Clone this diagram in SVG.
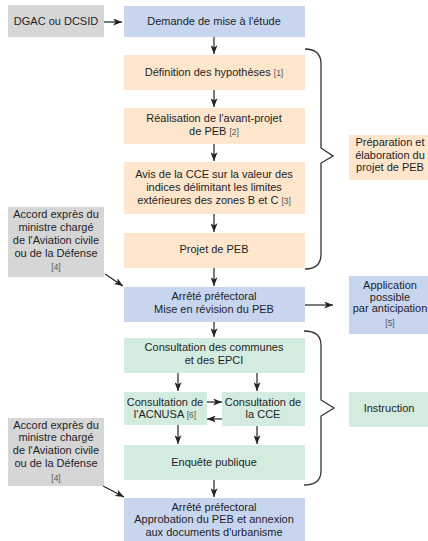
<svg xmlns="http://www.w3.org/2000/svg" width="428" height="541" viewBox="0 0 428 541">
<style>
text{font-family:"Liberation Sans",Arial,sans-serif;font-size:11px;fill:#1e1e28;text-anchor:middle}
.ref{font-size:8.5px;fill:#555}
.gray{fill:#d6d6d6}
.blue{fill:#c8d5ef}
.orange{fill:#fde6cc}
.green{fill:#d4ecdf}
.conn{stroke:#222;stroke-width:1.2;fill:none}
.brace{stroke:#333;stroke-width:1.3;fill:none}
</style>
<defs>
<marker id="ah" viewBox="0 0 10 8" refX="10" refY="4" markerWidth="9" markerHeight="7" markerUnits="userSpaceOnUse" orient="auto">
<path d="M0,0 L10,4 L0,8 L2.5,4 z" fill="#222"/>
</marker>
</defs>
<rect width="428" height="541" fill="#fff"/>

<g id="dgac"><rect class="gray" x="8" y="5" width="96" height="32"/><text x="56" y="25">DGAC ou DCSID</text></g>
<g id="demande"><rect class="blue" x="124" y="6" width="181" height="31"/><text x="214" y="25">Demande de mise à l'étude</text></g>
<g id="definition"><rect class="orange" x="124" y="55" width="181" height="35"/><text x="214" y="76">Définition des hypothèses <tspan class="ref">[1]</tspan></text></g>
<g id="realisation"><rect class="orange" x="124" y="108" width="181" height="36"/><text x="214" y="122">Réalisation de l'avant-projet</text><text x="214" y="135">de PEB <tspan class="ref">[2]</tspan></text></g>
<g id="avis"><rect class="orange" x="124" y="162" width="181" height="52"/><text x="214" y="178">Avis de la CCE sur la valeur des</text><text x="214" y="191">indices délimitant les limites</text><text x="214" y="204">extérieures des zones B et C <tspan class="ref">[3]</tspan></text></g>
<g id="projet"><rect class="orange" x="124" y="233" width="181" height="35"/><text x="214" y="253">Projet de PEB</text></g>
<g id="arrete1"><rect class="blue" x="124" y="287" width="181" height="35"/><text x="214" y="300">Arrêté préfectoral</text><text x="214" y="313">Mise en révision du PEB</text></g>
<g id="communes"><rect class="green" x="124" y="338" width="181" height="35"/><text x="214" y="351">Consultation des communes</text><text x="214" y="364">et des EPCI</text></g>
<g id="acnusa"><rect class="green" x="124" y="392" width="83" height="33"/><text x="165" y="406">Consultation de</text><text x="165" y="418">l'ACNUSA <tspan class="ref">[6]</tspan></text></g>
<g id="cce"><rect class="green" x="222" y="392" width="83" height="34"/><text x="263" y="406">Consultation de</text><text x="263" y="418">la CCE</text></g>
<g id="enquete"><rect class="green" x="124" y="445" width="181" height="35"/><text x="214" y="466">Enquête publique</text></g>
<g id="arrete2"><rect class="blue" x="124" y="498" width="181" height="43"/><text x="214" y="511">Arrêté préfectoral</text><text x="214" y="523">Approbation du PEB et annexion</text><text x="214" y="536">aux documents d'urbanisme</text></g>
<g id="accord1"><rect class="gray" x="8" y="207" width="96" height="70"/><text x="56" y="218">Accord exprès du</text><text x="56" y="231">ministre chargé</text><text x="56" y="244">de l'Aviation civile</text><text x="56" y="257">ou de la Défense</text><text x="56" y="270" class="ref">[4]</text></g>
<g id="accord2"><rect class="gray" x="8" y="418" width="96" height="68"/><text x="56" y="429">Accord exprès du</text><text x="56" y="441">ministre chargé</text><text x="56" y="454">de l'Aviation civile</text><text x="56" y="467">ou de la Défense</text><text x="56" y="481" class="ref">[4]</text></g>
<g id="preparation"><rect class="orange" x="349" y="135" width="79" height="45"/><text x="390" y="146">Préparation et</text><text x="390" y="159">élaboration du</text><text x="390" y="171">projet de PEB</text></g>
<g id="application"><rect class="blue" x="349" y="276" width="79" height="58"/><text x="390" y="289">Application</text><text x="390" y="301">possible</text><text x="390" y="312">par anticipation</text><text x="390" y="326" class="ref">[5]</text></g>
<g id="instruction"><rect class="green" x="349" y="392" width="79" height="35"/><text x="389" y="412">Instruction</text></g>

<g id="connectors">
<line class="conn" x1="104" y1="22" x2="122" y2="22" marker-end="url(#ah)"/>
<line class="conn" x1="214" y1="37" x2="214" y2="54" marker-end="url(#ah)"/>
<line class="conn" x1="214" y1="90" x2="214" y2="107" marker-end="url(#ah)"/>
<line class="conn" x1="214" y1="144" x2="214" y2="161" marker-end="url(#ah)"/>
<line class="conn" x1="214" y1="214" x2="214" y2="232" marker-end="url(#ah)"/>
<line class="conn" x1="214" y1="268" x2="214" y2="286" marker-end="url(#ah)"/>
<line class="conn" x1="214" y1="322" x2="214" y2="337" marker-end="url(#ah)"/>
<line class="conn" x1="178" y1="373" x2="178" y2="391" marker-end="url(#ah)"/>
<line class="conn" x1="257" y1="373" x2="257" y2="391" marker-end="url(#ah)"/>
<line class="conn" x1="207" y1="402" x2="222" y2="402" marker-end="url(#ah)"/>
<line class="conn" x1="222" y1="419" x2="207" y2="419" marker-end="url(#ah)"/>
<line class="conn" x1="178" y1="425" x2="178" y2="444" marker-end="url(#ah)"/>
<line class="conn" x1="257" y1="426" x2="257" y2="444" marker-end="url(#ah)"/>
<line class="conn" x1="214" y1="480" x2="214" y2="497" marker-end="url(#ah)"/>
<line class="conn" x1="105" y1="274" x2="123" y2="286" marker-end="url(#ah)"/>
<line class="conn" x1="103" y1="486" x2="124" y2="497" marker-end="url(#ah)"/>
<line class="conn" x1="305" y1="305" x2="333" y2="305" marker-end="url(#ah)"/>
<path class="brace" d="M305,49 Q321,49 321,64 L321,148 L333,156 L321,163 L321,254 Q321,269 305,269"/>
<path class="brace" d="M304,331 Q321,331 321,345 L321,400 L334,408 L321,416 L321,471 Q321,485 304,485"/>
</g>
</svg>
